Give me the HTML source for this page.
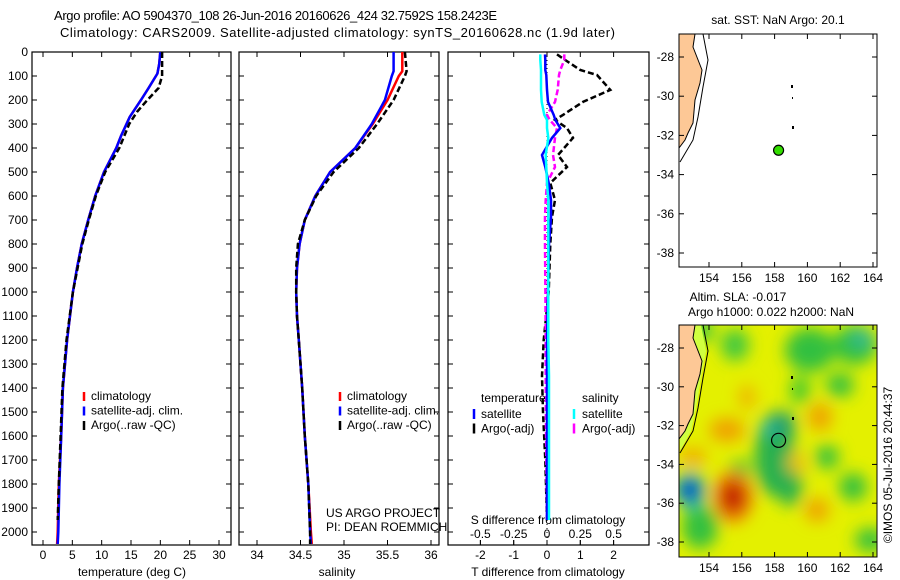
<!DOCTYPE html>
<html><head><meta charset="utf-8"><style>
body{margin:0;background:#fff}
svg{display:block;font-family:"Liberation Sans",sans-serif}
</style></head><body>
<svg id="c" width="900" height="580" viewBox="0 0 900 580">
<defs><filter id="bl" x="-20%" y="-20%" width="140%" height="140%"><feGaussianBlur stdDeviation="8"/></filter>
<clipPath id="m2clip"><rect x="679" y="325" width="198" height="232"/></clipPath></defs>
<text x="54" y="20" font-size="13" textLength="443">Argo profile: AO 5904370_108 26-Jun-2016 20160626_424 32.7592S 158.2423E</text>
<text x="60" y="37" font-size="13" textLength="555">Climatology: CARS2009. Satellite-adjusted climatology: synTS_20160628.nc (1.9d later)</text>
<g id="g"></g>
</svg>
<script>
// ---- data ----
const tDepth=[0,50,90,150,200,270,350,400,500,600,700,800,900,1000,1200,1400,1600,1800,2000,2050];
const tClim=[20.0,19.8,19.5,18.0,16.7,14.8,13.3,12.5,10.4,8.9,7.7,6.6,5.8,5.1,4.1,3.4,3.1,2.7,2.5,2.4];
const tSat=[20.0,19.8,19.5,18.0,16.7,14.8,13.3,12.5,10.4,8.9,7.7,6.6,5.8,5.1,4.1,3.4,3.1,2.8,2.6,2.5];
const argoDepth=[0,100,150,200,250,300,400,500,600,700,800,900,1000,1200,1400,1600,1800,1950];
const tArgo=[20.3,20.3,19.7,17.8,16.0,14.7,13.0,10.6,9.0,7.8,6.7,5.9,5.1,4.0,3.3,3.0,2.7,2.5];
const sDepth=[0,80,100,200,300,400,500,600,700,800,900,1000,1100,1200,1400,1600,1800,2000,2050];
const sClim=[35.67,35.67,35.63,35.50,35.33,35.13,34.84,34.67,34.55,34.49,34.46,34.45,34.46,34.48,34.52,34.55,34.59,34.62,34.63];
const sSat=[35.57,35.57,35.55,35.47,35.32,35.13,34.84,34.67,34.55,34.49,34.46,34.45,34.46,34.48,34.52,34.55,34.59,34.61,34.62];
const sArgo=[35.70,35.72,35.70,35.57,35.38,35.17,34.88,34.68,34.55,34.47,34.45,34.45,34.46,34.48,34.52,34.55,34.59,34.61,34.61];
const dDepth=[10,33,75,96,158,208,262,283,317,358,429,479,546,617,687,800,1000,1200,1350,1500,1700,1950];
const dTArgo=[0.3,0.54,1.0,1.5,1.9,1.08,0.48,0.24,0.6,0.78,0.33,0.6,0.1,0.24,0.15,0.1,0.05,-0.1,-0.15,-0.12,-0.05,0.0];
const dTSat=[-0.06,-0.05,-0.05,-0.02,0.0,0.03,0.2,0.25,0.4,0.15,-0.15,-0.05,0.05,0.12,0.12,0.06,0.03,0.0,0.0,0.0,0.0,0.0];
const dSArgo=[0.13,0.13,0.1,0.09,0.08,0.06,0.0,0.02,0.075,0.06,0.045,0.06,0.0,-0.01,-0.015,-0.015,-0.012,-0.01,-0.01,-0.008,-0.005,0.0];
const dSSat=[-0.05,-0.05,-0.045,-0.045,-0.045,-0.04,-0.02,0.0,0.0,0.01,-0.01,-0.005,0.0,0.01,0.01,0.01,0.01,0.01,0.015,0.015,0.015,0.015];
const depthTicks=[0,100,200,300,400,500,600,700,800,900,1000,1100,1200,1300,1400,1500,1600,1700,1800,1900,2000];
const tTicks=[0,5,10,15,20,25,30];
const sTicks=[34,34.5,35,35.5,36];
const dtTicks=[-2,-1,0,1,2];
const dsTicks=[-0.5,-0.25,0,0.25,0.5];
const latTicks=[-28,-30,-32,-34,-36,-38];
const lonTicks=[154,156,158,160,162,164];
const argoLon=158.2423, argoLat=-32.7592;
// ---- scales ----
const NS='http://www.w3.org/2000/svg';
const G=document.getElementById('g');
function el(tag,a,txt){const e=document.createElementNS(NS,tag);for(const k in a)e.setAttribute(k,a[k]);if(txt!==undefined)e.textContent=txt;G.appendChild(e);return e;}
const yD=d=>52+d*0.24;
const xT=v=>43+v*5.867;
const xS=v=>257+(v-34)*87;
const xDT=v=>547+v*33.3;
const xDS=v=>547+v*133.2;
const xLon=v=>709+(v-154)*16.4;
const yLat1=v=>57+(-28-v)*19.6;
const yLat2=v=>348+(-28-v)*19.4;
function line(xs,ds,xf,color,name,dash){
  const p=xs.map((v,i)=>xf(v).toFixed(1)+','+yD(ds[i]).toFixed(1)).join(' ');
  const e=el('polyline',{points:p,fill:'none',stroke:color,'stroke-width':2.5});
  if(dash)e.setAttribute('stroke-dasharray','6,3');
  
  
}
function panel(x0,x1,name){
  const r=el('rect',{x:x0,y:52,width:x1-x0,height:493,fill:'none',stroke:'#000','stroke-width':1.2});
  
  
  depthTicks.forEach(d=>{el('line',{x1:x0,x2:x0+5,y1:yD(d),y2:yD(d),stroke:'#000'});el('line',{x1:x1,x2:x1-5,y1:yD(d),y2:yD(d),stroke:'#000'});});
}
// panel 1
panel(32,231,'temperature-panel');
depthTicks.forEach(d=>{const t=el('text',{x:28,y:yD(d)+4,'font-size':12,'text-anchor':'end'},String(d));});
tTicks.forEach(v=>{el('line',{x1:xT(v),x2:xT(v),y1:545,y2:540,stroke:'#000'});el('line',{x1:xT(v),x2:xT(v),y1:52,y2:57,stroke:'#000'});const t=el('text',{x:xT(v),y:559,'font-size':12,'text-anchor':'middle'},String(v));});
let t=el('text',{x:132,y:576,'font-size':12,'text-anchor':'middle'},'temperature (deg C)');
line(tClim,tDepth,xT,'#f00','temp-climatology-line');
line(tSat,tDepth,xT,'#00f','temp-satellite-line');
line(tArgo,argoDepth,xT,'#000','temp-argo-line',true);
// panel 2
panel(239,439,'salinity-panel');
sTicks.forEach(v=>{el('line',{x1:xS(v),x2:xS(v),y1:545,y2:540,stroke:'#000'});el('line',{x1:xS(v),x2:xS(v),y1:52,y2:57,stroke:'#000'});const t=el('text',{x:xS(v),y:559,'font-size':12,'text-anchor':'middle'},String(v));});
t=el('text',{x:337,y:576,'font-size':12,'text-anchor':'middle'},'salinity');
line(sClim,sDepth,xS,'#f00','sal-climatology-line');
line(sSat,sDepth,xS,'#00f','sal-satellite-line');
line(sArgo,sDepth,xS,'#000','sal-argo-line',true);
t=el('text',{x:326,y:517,'font-size':12},'US ARGO PROJECT');
t=el('text',{x:326,y:531,'font-size':12},'PI: DEAN ROEMMICH');
// legends 1,2
[[84,91],[340,347]].forEach(([mx,tx],k)=>{
  [['#f00','climatology'],['#00f','satellite-adj. clim.'],['#000','Argo(..raw -QC)']].forEach(([c,s],i)=>{
    const y=398+i*14.5;
    el('line',{x1:mx,x2:mx,y1:y-6,y2:y+3,stroke:c,'stroke-width':2.5});
    const e=el('text',{x:tx,y:y+2,'font-size':12},s);
    
    
  });
});
// panel 3
panel(448,649,'difference-panel');
el('line',{x1:547,x2:547,y1:52,y2:545,stroke:'#000','stroke-dasharray':'1,3'});
dtTicks.forEach(v=>{el('line',{x1:xDT(v),x2:xDT(v),y1:545,y2:540,stroke:'#000'});el('line',{x1:xDT(v),x2:xDT(v),y1:52,y2:57,stroke:'#000'});const t=el('text',{x:xDT(v),y:559,'font-size':12,'text-anchor':'middle'},String(v));});
dsTicks.forEach(v=>{const t=el('text',{x:xDS(v),y:538,'font-size':12,'text-anchor':'middle'},String(v));el('line',{x1:xDS(v),x2:xDS(v),y1:545,y2:540,stroke:'#000'});});
t=el('text',{x:548,y:524,'font-size':12,'text-anchor':'middle'},'S difference from climatology');
t=el('text',{x:548,y:576,'font-size':12,'text-anchor':'middle'},'T difference from climatology');
line(dTArgo,dDepth,xDT,'#000','t-diff-argo-line',true);
line(dSArgo,dDepth,xDS,'#f0f','s-diff-argo-line',true);
line(dTSat,dDepth,xDT,'#00f','t-diff-satellite-line');
line(dSSat,dDepth,xDS,'#0ff','s-diff-satellite-line');
[[474,481,'temperature',[['#00f','satellite'],['#000','Argo(-adj)']]],[574,582,'salinity',[['#0ff','satellite'],['#f0f','Argo(-adj)']]]].forEach(([mx,tx,h,items])=>{
  let e=el('text',{x:tx,y:402,'font-size':12},h);
  items.forEach(([c,s],i)=>{const y=416+i*14.5;el('line',{x1:mx,x2:mx,y1:y-7,y2:y+3,stroke:c,'stroke-width':2.5});
    const e=el('text',{x:tx,y:y+2,'font-size':12},s);});
});
// maps
function map(y0,y1,yl,name,heat){
  if(heat){
    const gg=el('g',{'clip-path':'url(#m2clip)'});
    
    
    const add=(tag,a)=>{const e=document.createElementNS(NS,tag);for(const k in a)e.setAttribute(k,a[k]);gg.appendChild(e);return e;};
    add('rect',{x:679,y:325,width:198,height:232,fill:'#e4f000'});
    const f=add('g',{filter:'url(#bl)'});
    const blobs=[[810,350,25,22,'#30c040'],[855,345,22,20,'#30c040'],[840,385,14,12,'#30c040'],[800,390,10,14,'#40c830'],[735,345,14,16,'#40c840'],[862,338,12,10,'#30b890'],[700,330,14,12,'#40c840'],[775,455,20,42,'#28b050'],[780,425,16,14,'#20a070'],[767,428,6,6,'#30c0c0'],[790,485,12,22,'#28b050'],[727,430,18,12,'#f0a000'],[747,397,8,12,'#f0b000'],[820,417,12,14,'#f0a000'],[693,457,14,10,'#f0b000'],[817,510,12,12,'#f0a000'],[797,463,10,10,'#f0c000'],[700,527,18,22,'#30c040'],[827,457,12,12,'#30c040'],[853,487,14,14,'#30c040'],[740,470,10,10,'#30c040'],[870,540,15,12,'#30c040'],[733,497,20,26,'#f08000'],[733,497,12,16,'#c00000'],[690,490,16,18,'#20c0c0'],[690,490,11,12,'#0040c0']];
    blobs.forEach(b=>{const e=document.createElementNS(NS,'ellipse');e.setAttribute('cx',b[0]);e.setAttribute('cy',b[1]);e.setAttribute('rx',b[2]);e.setAttribute('ry',b[3]);e.setAttribute('fill',b[4]);f.appendChild(e);});
  }
  const dy=y0-34;
  const land=[[679,34],[695,34],[693,47],[702,70],[700,83],[695,100],[693,123],[688,133],[685,140],[679,148]].map(p=>p[0]+','+(p[1]+dy)).join(' ');
  if(heat){const s=el('polygon',{points:'679,'+(34+dy)+' 701,'+(34+dy)+' 706,'+(60+dy)+' 701,'+(87+dy)+' 696,'+(117+dy)+' 691,'+(140+dy)+' 680,'+(160+dy),fill:'#d0ff40'});}
  const ln=el('polygon',{points:land,fill:'#fdc896',stroke:'#000','stroke-width':1});
  
  
  el('polyline',{points:'703,'+(34+dy)+' 708,'+(60+dy)+' 703,'+(87+dy)+' 698,'+(117+dy)+' 693,'+(140+dy)+' 680,'+(162+dy),fill:'none',stroke:'#000','stroke-width':1});
  el('rect',{x:791,y:85+dy,width:2,height:3,fill:'#000'});el('rect',{x:792,y:97+dy,width:1,height:2,fill:'#000'});el('rect',{x:792,y:126+dy,width:2,height:3,fill:'#000'});
  const r=el('rect',{x:679,y:y0,width:198,height:y1-y0,fill:'none',stroke:'#000','stroke-width':1});
  
  
  latTicks.forEach(v=>{const y=yl(v);el('line',{x1:679,x2:684,y1:y,y2:y,stroke:'#000'});el('line',{x1:877,x2:872,y1:y,y2:y,stroke:'#000'});
    const e=el('text',{x:674,y:y+4,'font-size':12,'text-anchor':'end'},String(v));});
  lonTicks.forEach(v=>{const x=xLon(v);el('line',{x1:x,x2:x,y1:y1,y2:y1-5,stroke:'#000'});el('line',{x1:x,x2:x,y1:y0,y2:y0+5,stroke:'#000'});
    const e=el('text',{x:x,y:y1+15,'font-size':12,'text-anchor':'middle'},String(v));});
  const c=el('circle',{cx:xLon(argoLon),cy:yl(argoLat),r:heat?7:5,fill:heat?'none':'#33dd00',stroke:'#000','stroke-width':1.2});
  
  
}
map(34,267,yLat1,'sst-map',false);
map(325,557,yLat2,'sla-map',true);
t=el('text',{x:778,y:24,'font-size':12,'text-anchor':'middle'},'sat. SST: NaN Argo: 20.1');
t=el('text',{x:738,y:301,'font-size':12,'text-anchor':'middle'},'Altim. SLA: -0.017');
t=el('text',{x:771,y:316,'font-size':12,'text-anchor':'middle'},'Argo h1000: 0.022 h2000: NaN');
t=el('text',{x:892,y:465,'font-size':12,'text-anchor':'middle',transform:'rotate(-90 892 465)'},'©IMOS 05-Jul-2016 20:44:37');
</script>
</body></html>
